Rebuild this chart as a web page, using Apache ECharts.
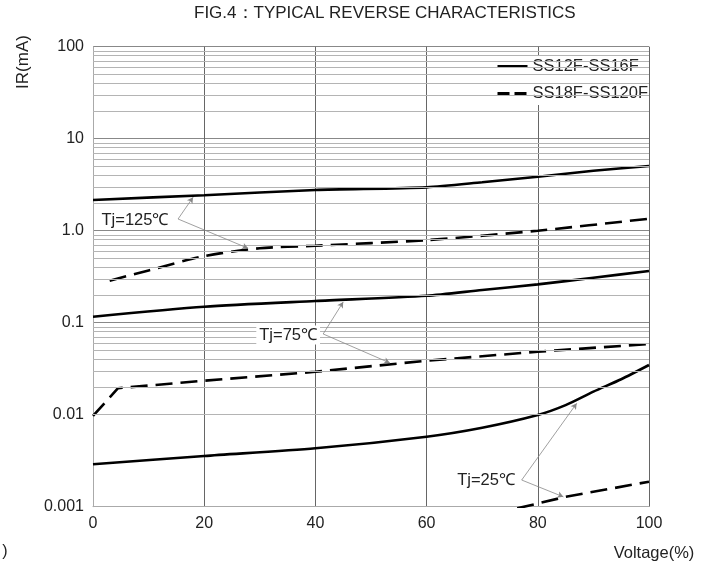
<!DOCTYPE html>
<html>
<head>
<meta charset="utf-8">
<script src="https://cdn.jsdelivr.net/npm/echarts@6/dist/echarts.min.js"></script>
<style>
  html, body { margin: 0; padding: 0; background: #fff; }
  #chart { width: 714px; height: 566px; }
</style>
</head>
<body>
<div id="chart"></div>
<script>
// Voltage (% of rated) and reverse current IR (mA) for each family / junction temperature
const v125Solid = [0, 20, 40, 60, 70, 80, 90, 100];
const ir125Solid = [2.16, 2.43, 2.77, 2.96, 3.36, 3.86, 4.49, 5.05];

const v125Dash = [3, 10, 20, 30, 40, 60, 80, 100];
const ir125Dash = [0.286, 0.37, 0.53, 0.644, 0.687, 0.79, 1.0, 1.35];

const v75Solid = [0, 20, 40, 60, 70, 80, 90, 100];
const ir75Solid = [0.116, 0.149, 0.172, 0.196, 0.227, 0.261, 0.308, 0.365];

const v75Dash = [0, 4.5, 20, 40, 60, 80, 100];
const ir75Dash = [0.0097, 0.0194, 0.0234, 0.0293, 0.0386, 0.0484, 0.0587];

const v25Solid = [0, 20, 40, 60, 70, 80, 85, 90, 95, 100];
const ir25Solid = [0.00289, 0.00356, 0.00431, 0.00577, 0.00722, 0.00993, 0.0127, 0.0178, 0.0243, 0.0347];

const v25Dash = [76.3, 85, 100];
const ir25Dash = [0.00096, 0.00128, 0.00187];

// Axis tick labels
const xTicks = [0, 20, 40, 60, 80, 100];
const yTickLabels = { 100: '100', 10: '10', 1: '1.0', 0.1: '0.1', 0.01: '0.01', 0.001: '0.001' };

// Temperature callouts: text position and the two curve points each one points at
const tjLabels = ['Tj=125℃', 'Tj=75℃', 'Tj=25℃'];
const tjLabelPos = [[7.55, 1.306], [35.1, 0.0735], [70.7, 0.00195]];
const tjLeaderStart = [[15.3, 1.34], [41.4, 0.0754], [77.1, 0.00195]];
const tjLeaderSolidEnd = [[18.0, 2.31], [45.0, 0.168], [87.0, 0.0133]];
const tjLeaderDashEnd = [[27.9, 0.644], [53.4, 0.0365], [84.6, 0.00128]];

const SOLID = 'SS12F-SS16F';
const DASHED = 'SS18F-SS120F';

const FONT = 'Liberation Sans, Arial, sans-serif';

function pairs(xs, ys) { return xs.map((x, i) => [x, ys[i]]); }

// Log-decade minor gridlines at 2..9 x 10^k
const minorGrid = [];
for (let k = -3; k <= 1; k++) {
  for (let m = 2; m <= 9; m++) minorGrid.push(+(m * Math.pow(10, k)).toPrecision(3));
}

const chart = echarts.init(document.getElementById('chart'), null, { renderer: 'canvas' });

const curveStyle = (dashed) => ({
  color: '#000',
  width: 2.6,
  type: dashed ? [17, 8] : 'solid'
});

function curve(name, data, dashed, smooth) {
  return {
    name: name,
    type: 'line',
    data: data,
    showSymbol: false,
    symbol: 'none',
    smooth: smooth,
    clip: true,
    z: 3,
    lineStyle: curveStyle(dashed),
    itemStyle: { color: '#000' }
  };
}

const leaderData = [];
tjLeaderStart.forEach((s, i) => {
  leaderData.push([{ coord: s }, { coord: tjLeaderSolidEnd[i] }]);
  leaderData.push([{ coord: s }, { coord: tjLeaderDashEnd[i] }]);
});

// legend keys show only the line stroke, no marker
const hiddenMarker = { opacity: 0, borderWidth: 0 };

const option = {
  animation: false,
  backgroundColor: '#fff',
  textStyle: { fontFamily: FONT },
  title: {
    text: 'FIG.4：TYPICAL REVERSE CHARACTERISTICS',
    left: 194,
    top: 5,
    padding: 0,
    textStyle: { fontSize: 17, fontWeight: 'normal', color: '#222', fontFamily: FONT }
  },
  legend: {
    orient: 'vertical',
    left: 494,
    top: 55,
    itemWidth: 30,
    itemHeight: 14,
    itemGap: 10,
    padding: [3, 0, 3, 2],
    backgroundColor: '#fff',
    selectedMode: false,
    itemStyle: hiddenMarker,
    textStyle: { fontSize: 16.5, color: '#222' },
    data: [
      { name: SOLID, itemStyle: hiddenMarker, lineStyle: { width: 3, type: 'solid', color: '#000', opacity: 1 } },
      { name: DASHED, itemStyle: hiddenMarker, lineStyle: { width: 3, type: [12, 5], color: '#000', opacity: 1 } }
    ]
  },
  grid: { left: 93, right: 65, top: 46.7, bottom: 59.3, containLabel: false },
  xAxis: {
    type: 'value',
    min: 0,
    max: 100,
    interval: 20,
    axisLine: { show: true, lineStyle: { color: '#aaa', width: 1 } },
    axisTick: { show: false },
    axisLabel: {
      fontSize: 16,
      color: '#222',
      margin: 9,
      formatter: (v) => (xTicks.indexOf(v) >= 0 ? String(v) : '')
    },
    splitLine: { show: true, lineStyle: { color: '#666', width: 1 } }
  },
  yAxis: {
    type: 'log',
    logBase: 10,
    min: 0.001,
    max: 100,
    axisLine: { show: true, lineStyle: { color: '#aaa', width: 1 } },
    axisTick: { show: false },
    axisLabel: {
      fontSize: 16,
      color: '#222',
      margin: 9,
      formatter: (v) => {
        const key = Object.keys(yTickLabels).find((k) => Math.abs(Math.log10(+k) - Math.log10(v)) < 1e-6);
        return key !== undefined ? yTickLabels[key] : '';
      }
    },
    splitLine: { show: true, lineStyle: { color: '#888', width: 1 } }
  },
  graphic: [
    {
      type: 'text', x: 23, y: 62, rotation: Math.PI / 2,
      style: { text: 'IR(mA)', fontSize: 17, fill: '#222', fontFamily: FONT, align: 'center', verticalAlign: 'middle' }
    },
    {
      type: 'text', x: 654, y: 553,
      style: { text: 'Voltage(%)', fontSize: 16.5, fill: '#222', fontFamily: FONT, align: 'center', verticalAlign: 'middle' }
    },
    {
      type: 'text', x: 5, y: 552,
      style: { text: ')', fontSize: 16, fill: '#222', fontFamily: FONT, align: 'center', verticalAlign: 'middle' }
    }
  ],
  series: [
    {
      // minor log gridlines
      name: 'grid-minor',
      type: 'line',
      data: [],
      silent: true,
      z: 1,
      markLine: {
        silent: true,
        animation: false,
        symbol: ['none', 'none'],
        label: { show: false },
        lineStyle: { color: '#b4b4b4', width: 1, type: 'solid' },
        emphasis: { disabled: true },
        data: minorGrid.map((v) => ({ yAxis: v }))
      }
    },
    curve(SOLID, pairs(v125Solid, ir125Solid), false, 0.25),
    curve(DASHED, pairs(v125Dash, ir125Dash), true, 0.25),
    curve(SOLID, pairs(v75Solid, ir75Solid), false, 0.25),
    curve(DASHED, pairs(v75Dash, ir75Dash), true, false),
    curve(SOLID, pairs(v25Solid, ir25Solid), false, 0.25),
    curve(DASHED, pairs(v25Dash, ir25Dash), true, false),
    {
      // temperature callouts
      name: 'callouts',
      type: 'line',
      data: [],
      silent: true,
      z: 4,
      markLine: {
        silent: true,
        animation: false,
        symbol: ['none', 'arrow'],
        symbolSize: [5, 6],
        label: { show: false },
        lineStyle: { color: '#888', width: 0.8, type: 'solid' },
        emphasis: { disabled: true },
        data: leaderData
      },
      markPoint: {
        silent: true,
        animation: false,
        symbol: 'circle',
        symbolSize: 1,
        itemStyle: { color: 'rgba(0,0,0,0)' },
        label: {
          show: true,
          position: 'inside',
          fontSize: 16.5,
          color: '#222',
          backgroundColor: '#fff',
          padding: [1, 3],
          formatter: (p) => p.name
        },
        data: tjLabels.map((t, i) => ({ name: t, coord: tjLabelPos[i] }))
      }
    }
  ]
};

chart.setOption(option);
</script>
</body>
</html>
